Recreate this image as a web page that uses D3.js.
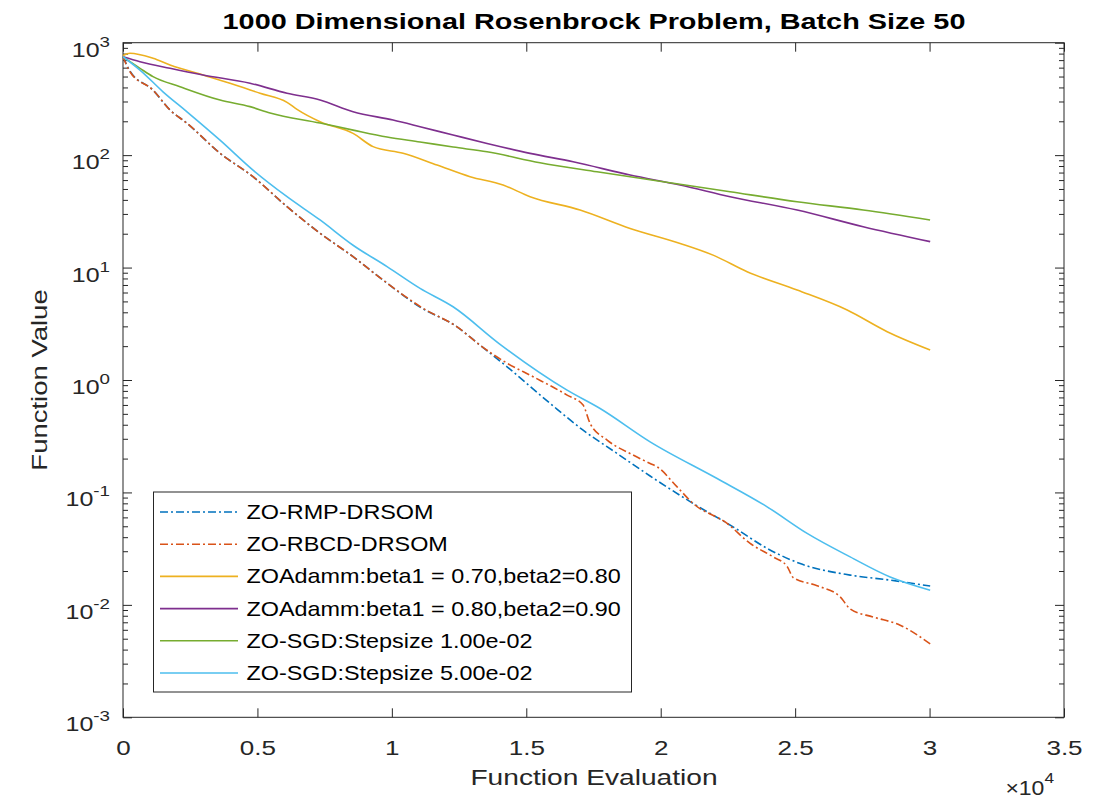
<!DOCTYPE html>
<html>
<head>
<meta charset="utf-8">
<script src="https://cdn.jsdelivr.net/npm/d3@7"></script>
<style>
  body { margin: 0; background: #fff; }
  svg { font-family: "Liberation Sans", Arial, sans-serif; }
</style>
</head>
<body>
<script>
// data (x = function evaluations)
var rmpX = [0, 260, 1116, 1749, 2381, 3609, 4836, 6101, 7329, 8557, 9673, 11049, 12426, 13281, 14286, 15885, 17113, 18378, 19606, 21205, 22693, 23958, 25186, 27046, 28534, 30022];
var rmpY = [750, 560, 379, 252, 192, 104, 64.3, 34.8, 20.2, 12.5, 7.74, 4.45, 2.97, 2.04, 1.31, 0.62, 0.358, 0.222, 0.14, 0.0798, 0.0494, 0.0318, 0.0233, 0.0184, 0.0166, 0.0147];

var rbcdX = [0, 260, 1116, 1749, 2381, 3609, 4836, 6101, 7329, 8557, 9673, 11161, 12426, 13281, 14286, 15253, 16518, 17113, 17374, 18006, 18973, 19606, 19866, 20610, 21205, 22470, 23326, 24182, 24702, 24926, 25818, 26674, 27046, 27902, 28906, 30022];
var rbcdY = [750, 552, 379, 252, 192, 104, 64.3, 34.8, 20.2, 12.5, 7.74, 4.34, 2.97, 2.04, 1.41, 1.07, 0.734, 0.598, 0.411, 0.292, 0.215, 0.181, 0.169, 0.112, 0.0798, 0.053, 0.0352, 0.0267, 0.022, 0.0175, 0.0148, 0.0118, 0.0092, 0.0078, 0.0066, 0.0045];

var adam1X = [0, 260, 1116, 1749, 2976, 3981, 5097, 6101, 6473, 7329, 8557, 9301, 10417, 11682, 12909, 14137, 15141, 17001, 18862, 20722, 21949, 23214, 25074, 26935, 28423, 30022];
var adam1Y = [770, 805, 726, 634, 516, 436, 355, 295, 255, 198, 156, 119, 104, 81.7, 64.3, 54.2, 42.7, 32.5, 22.3, 16.4, 12.9, 9.18, 6.31, 4.19, 2.69, 1.85];

var adam2X = [0, 632, 1749, 2976, 4725, 6101, 7329, 8557, 10045, 11049, 12277, 13542, 15141, 16741, 18862, 20722, 22582, 25074, 27530, 30022];
var adam2Y = [750, 678, 592, 516, 436, 355, 309, 243, 205, 179, 151, 127, 103.7, 87.3, 66.5, 54.2, 42.7, 32.5, 23.1, 17.0];

var sgd1X = [0, 632, 1116, 2120, 3610, 4725, 5470, 7330, 8560, 9820, 11050, 12280, 13540, 15510, 17630, 20090, 22580, 25070, 27530, 30020];
var sgd1Y = [747, 592, 499, 406, 309, 270, 237, 193, 167, 145, 131, 118, 107, 85.6, 71.1, 58.0, 47.2, 38.5, 32.5, 26.5];

var sgd5X = [0, 632, 1488, 2381, 3609, 4836, 6101, 7329, 8557, 9821, 11049, 12277, 14000, 16518, 17746, 19606, 22098, 23958, 25446, 27046, 28534, 30022];
var sgd5Y = [750, 571, 366, 243, 136, 73.6, 42.7, 26.5, 15.8, 10.2, 6.53, 4.48, 2.1, 0.813, 0.558, 0.282, 0.133, 0.0745, 0.0432, 0.0267, 0.0177, 0.0135];

var names = [
  "ZO-RMP-DRSOM",
  "ZO-RBCD-DRSOM",
  "ZOAdamm:beta1 = 0.70,beta2=0.80",
  "ZOAdamm:beta1 = 0.80,beta2=0.90",
  "ZO-SGD:Stepsize 1.00e-02",
  "ZO-SGD:Stepsize 5.00e-02"
];
var colors = ["#0072BD", "#D95319", "#EDB120", "#7E2F8E", "#77AC30", "#4DBEEE"];
var dashes = ["8,3,2,3", "8,3,2,3", null, null, null, null];

var xTicks = [0, 5000, 10000, 15000, 20000, 25000, 30000, 35000];
var yExps = [-3, -2, -1, 0, 1, 2, 3];

var series = [
  { x: rmpX, y: rmpY },
  { x: rbcdX, y: rbcdY },
  { x: adam1X, y: adam1Y },
  { x: adam2X, y: adam2Y },
  { x: sgd1X, y: sgd1Y },
  { x: sgd5X, y: sgd5Y }
];

// the reference font renders wider than Liberation Sans, so stretch text horizontally
function place(tx, ty, sx, rot) {
  return "translate(" + tx + "," + ty + ")" + (rot ? " rotate(" + rot + ")" : "") + " scale(" + sx + ",1)";
}

function drawChart() {
  var width = 1094, height = 799;
  var left = 123, right = 1064, top = 42.7, bottom = 717.3;
  var axisColor = "#262626";

  var svg = d3.select("body").append("svg")
    .attr("width", width)
    .attr("height", height);

  var x = d3.scaleLinear().domain([0, 35000]).range([left, right]);
  var y = d3.scaleLog().domain([1e-3, 1e3]).range([bottom, top]);

  var majors = yExps.map(function (e) { return Math.pow(10, e); });
  var minors = y.ticks().filter(function (v) {
    var l = Math.log10(v);
    return Math.abs(l - Math.round(l)) > 1e-6;
  });

  // ticks (pointing inward, MATLAB style)
  function tickAxis(axis, tx, ty) {
    var g = svg.append("g")
      .attr("transform", "translate(" + tx + "," + ty + ")")
      .call(axis);
    g.select(".domain").remove();
    g.selectAll("line").attr("stroke", axisColor);
    return g;
  }

  var xb = tickAxis(d3.axisBottom(x).tickValues(xTicks).tickSize(-9).tickPadding(23)
    .tickFormat(function (d) { return d / 1e4; }), 0, bottom);
  xb.selectAll("text")
    .attr("fill", axisColor)
    .attr("transform", "scale(1.24,1)")
    .style("font-size", "21px")
    .style("font-family", "'Liberation Sans', Arial, sans-serif");

  tickAxis(d3.axisTop(x).tickValues(xTicks).tickSize(-9).tickFormat(""), 0, top);
  tickAxis(d3.axisLeft(y).tickValues(majors).tickSize(-9).tickFormat(""), left, 0);
  tickAxis(d3.axisLeft(y).tickValues(minors).tickSize(-5).tickFormat(""), left, 0);
  tickAxis(d3.axisRight(y).tickValues(majors).tickSize(-9).tickFormat(""), right, 0);
  tickAxis(d3.axisRight(y).tickValues(minors).tickSize(-5).tickFormat(""), right, 0);

  // y tick labels 10^n
  yExps.forEach(function (e) {
    var t = svg.append("text")
      .attr("transform", place(110, y(Math.pow(10, e)) + 14, 1.25))
      .attr("text-anchor", "end")
      .attr("fill", axisColor)
      .style("font-size", "20px");
    t.append("tspan").text("10");
    t.append("tspan").attr("dy", -10).style("font-size", "15px").text(e);
  });

  // box
  svg.append("rect")
    .attr("x", left).attr("y", top)
    .attr("width", right - left).attr("height", bottom - top)
    .attr("fill", "none")
    .attr("stroke", axisColor)
    .attr("stroke-width", 1);

  // lines
  var line = d3.line()
    .curve(d3.curveMonotoneX)
    .x(function (d) { return x(d[0]); })
    .y(function (d) { return y(d[1]); });

  series.forEach(function (s, i) {
    var pts = s.x.map(function (v, j) { return [v, s.y[j]]; });
    svg.append("path")
      .datum(pts)
      .attr("d", line)
      .attr("fill", "none")
      .attr("stroke", colors[i])
      .attr("stroke-width", 1.6)
      .attr("stroke-dasharray", dashes[i]);
  });

  // title and labels
  svg.append("text")
    .attr("transform", place(594, 29.3, 1.31))
    .attr("text-anchor", "middle")
    .style("font-size", "22px").style("font-weight", "bold")
    .attr("fill", "#000")
    .text("1000 Dimensional Rosenbrock Problem, Batch Size 50");

  svg.append("text")
    .attr("transform", place(594, 785, 1.28))
    .attr("text-anchor", "middle")
    .attr("fill", axisColor)
    .style("font-size", "22px")
    .text("Function Evaluation");

  svg.append("text")
    .attr("transform", place(47, (top + bottom) / 2, 1.25, -90))
    .attr("text-anchor", "middle")
    .attr("fill", axisColor)
    .style("font-size", "22px")
    .text("Function Value");

  var mult = svg.append("text")
    .attr("transform", place(1054, 795, 1.15))
    .attr("text-anchor", "end")
    .attr("fill", axisColor)
    .style("font-size", "20px");
  mult.append("tspan").text("\u00d710");
  mult.append("tspan").attr("dy", -12).style("font-size", "15px").text("4");

  // legend
  var lg = svg.append("g");
  lg.append("rect")
    .attr("x", 153.5).attr("y", 492)
    .attr("width", 478).attr("height", 200)
    .attr("fill", "#fff")
    .attr("stroke", axisColor)
    .attr("stroke-width", 1);

  names.forEach(function (n, i) {
    var cy = 512 + i * 32.2;
    lg.append("line")
      .attr("x1", 160).attr("x2", 238)
      .attr("y1", cy).attr("y2", cy)
      .attr("stroke", colors[i])
      .attr("stroke-width", 1.6)
      .attr("stroke-dasharray", dashes[i]);
    lg.append("text")
      .attr("transform", place(246.5, cy + 7, 1.17))
      .attr("fill", "#000")
      .style("font-size", "20px")
      .text(n);
  });
}

drawChart();
</script>
</body>
</html>
